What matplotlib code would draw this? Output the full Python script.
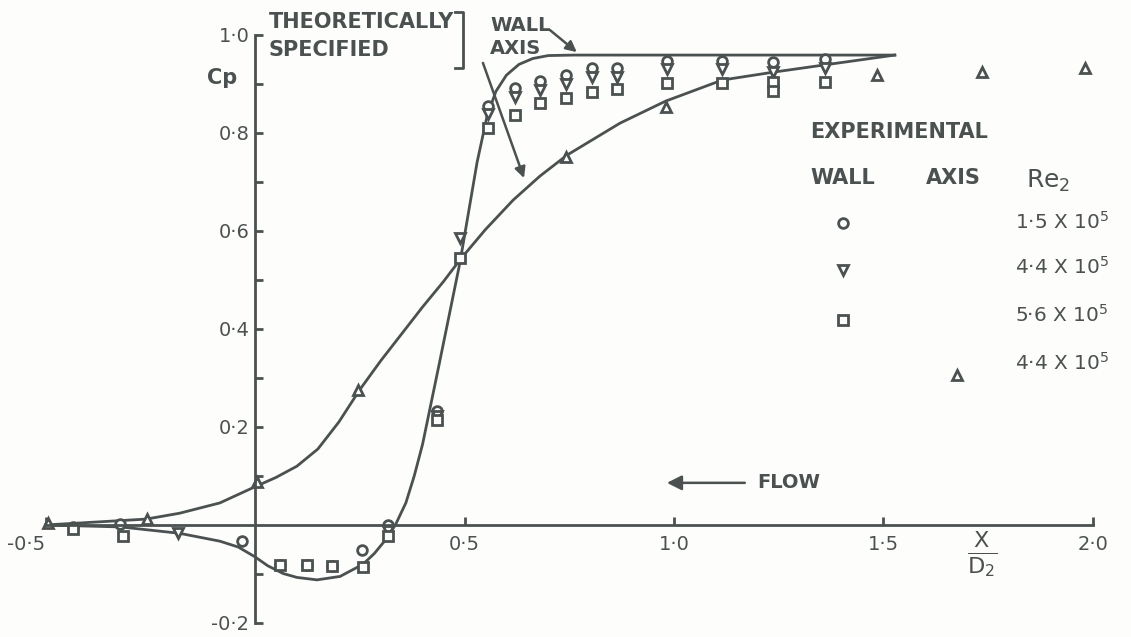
import matplotlib
matplotlib.use("Agg")
import matplotlib.pyplot as plt
from matplotlib.lines import Line2D

ink = "#4b5151"
plt.rcParams['font.family'] = ['DejaVu Sans']

# theoretical curves
wall_theory_x = [-0.5, -0.32, -0.18, -0.084, -0.04, 0.0, 0.03, 0.067, 0.10, 0.148, 0.203, 0.258, 0.285, 0.31,
                 0.335, 0.36, 0.38, 0.40, 0.44, 0.489, 0.513, 0.53, 0.554, 0.575, 0.60, 0.63, 0.663, 0.70,
                 0.76, 1.527]
wall_theory_cp = [0.0, -0.004, -0.017, -0.033, -0.045, -0.065, -0.083, -0.099, -0.107, -0.112, -0.105, -0.08,
                  -0.058, -0.032, 0.0, 0.045, 0.1, 0.165, 0.33, 0.535, 0.655, 0.74, 0.835, 0.885, 0.918,
                  0.94, 0.952, 0.958, 0.959, 0.959]

axis_theory_x = [-0.5, -0.26, -0.18, -0.084, 0.0, 0.05, 0.1, 0.15, 0.2, 0.25, 0.3, 0.35, 0.4, 0.45, 0.489,
                 0.55, 0.616, 0.68, 0.745, 0.871, 0.98, 1.115, 1.236, 1.36, 1.527]
axis_theory_cp = [0.0, 0.012, 0.024, 0.045, 0.078, 0.097, 0.12, 0.155, 0.21, 0.276, 0.335, 0.39, 0.445, 0.497,
                  0.541, 0.603, 0.663, 0.712, 0.755, 0.82, 0.865, 0.908, 0.924, 0.939, 0.959]

# experimental points
wall_re15_x = [-0.434, -0.322, -0.03, 0.06, 0.124, 0.184, 0.255, 0.317, 0.434, 0.556, 0.62, 0.68, 0.742,
               0.804, 0.864, 0.983, 1.115, 1.236, 1.36]
wall_re15_cp = [-0.004, 0.002, -0.033, -0.082, -0.082, -0.084, -0.052, 0.0, 0.232, 0.856, 0.892, 0.906, 0.918,
                0.933, 0.933, 0.947, 0.947, 0.945, 0.95]

wall_re44_x = [-0.184, 0.317, 0.434, 0.489, 0.556, 0.62, 0.68, 0.742, 0.804, 0.864, 0.983, 1.115, 1.236, 1.36]
wall_re44_cp = [-0.017, -0.012, 0.222, 0.586, 0.838, 0.874, 0.888, 0.9, 0.915, 0.915, 0.93, 0.93, 0.925, 0.933]

wall_re56_x = [-0.434, -0.315, 0.06, 0.124, 0.184, 0.258, 0.317, 0.434, 0.489, 0.556, 0.62, 0.68, 0.742,
               0.804, 0.864, 0.983, 1.115, 1.236, 1.236, 1.36]
wall_re56_cp = [-0.008, -0.022, -0.082, -0.082, -0.084, -0.086, -0.022, 0.215, 0.545, 0.81, 0.837, 0.861, 0.871,
                0.884, 0.89, 0.902, 0.902, 0.905, 0.885, 0.904]

axis_re44_x = [-0.494, -0.258, 0.005, 0.246, 0.742, 0.98, 1.485, 1.735, 1.98]
axis_re44_cp = [0.004, 0.012, 0.088, 0.275, 0.751, 0.853, 0.918, 0.924, 0.933]

xticks = [-0.5, 0.5, 1.0, 1.5, 2.0]
xtick_labels = ["-0·5", "0·5", "1·0", "1·5", "2·0"]
yticks = [-0.2, 0.2, 0.4, 0.6, 0.8, 1.0]
ytick_labels = ["-0·2", "0·2", "0·4", "0·6", "0·8", "1·0"]
yminor = [-0.1, 0.1, 0.3, 0.5, 0.7, 0.9]

legend_markers = ["o", "v", "s", "^"]
legend_labels = ["1·5 X 10$^5$", "4·4 X 10$^5$", "5·6 X 10$^5$", "4·4 X 10$^5$"]

fig = plt.figure(figsize=(11.31, 6.37), dpi=100, facecolor="#fdfdfb")
ax = fig.add_axes([0, 0, 1, 1])
ax.set_facecolor("#fdfdfb")
ax.set_xlim(-0.6086, 2.0907)
ax.set_ylim(-0.2286, 1.0714)

ax.plot(wall_theory_x, wall_theory_cp, color=ink, lw=2)
ax.plot(axis_theory_x, axis_theory_cp, color=ink, lw=2)

mk = dict(ls="none", markerfacecolor="#fdfdfb", markeredgecolor=ink, markeredgewidth=2, ms=7)
ax.plot(wall_re15_x, wall_re15_cp, marker="o", **mk)
ax.plot(wall_re44_x, wall_re44_cp, marker="v", **mk)
ax.plot(wall_re56_x, wall_re56_cp, marker="s", **mk)
ax.plot(axis_re44_x, axis_re44_cp, marker="^", **mk)

# axes through the origin
for s in ["top", "right"]:
    ax.spines[s].set_visible(False)
ax.spines["left"].set_position(("data", 0))
ax.spines["bottom"].set_position(("data", 0))
ax.spines["left"].set_bounds(-0.2, 1.0)
ax.spines["bottom"].set_bounds(-0.5, 2.0)
for s in ["left", "bottom"]:
    ax.spines[s].set_color(ink)
    ax.spines[s].set_linewidth(2)

ax.set_xticks(xticks)
ax.set_xticklabels(xtick_labels)
ax.get_xticklabels()[0].set_ha("right")
ax.set_yticks(yticks)
ax.set_yticklabels(ytick_labels)
ax.set_yticks(yminor, minor=True)
ax.tick_params(axis="x", direction="in", length=6, width=2, color=ink, pad=7, labelsize=14, labelcolor=ink)
ax.tick_params(axis="y", which="both", direction="in", length=6, width=2, color=ink, pad=4, labelsize=14, labelcolor=ink)

tx = dict(color=ink, fontsize=15, fontweight="bold")
ax.text(-0.079, 0.912, "Cp", ha="center", va="center", **tx)
ax.text(0.032, 1.027, "THEORETICALLY", ha="left", va="center", **tx)
ax.text(0.032, 0.969, "SPECIFIED", ha="left", va="center", **tx)
ax.text(0.561, 1.02, "WALL", ha="left", va="center", color=ink, fontsize=14, fontweight="bold")
ax.text(0.561, 0.973, "AXIS", ha="left", va="center", color=ink, fontsize=14, fontweight="bold")

# bracket
ax.add_line(Line2D([0.477, 0.496, 0.496, 0.477], [1.047, 1.047, 0.933, 0.933], color=ink, lw=2))

arr = dict(arrowstyle="-|>", color=ink, lw=1.8, mutation_scale=16, shrinkA=0, shrinkB=0)
ax.annotate("", xy=(0.768, 0.965), xytext=(0.704, 1.01), arrowprops=arr)
ax.annotate("", xy=(0.642, 0.708), xytext=(0.544, 0.943), arrowprops=arr)
ax.annotate("", xy=(0.983, 0.086), xytext=(1.169, 0.086), arrowprops=dict(arr, mutation_scale=22))
ax.text(1.198, 0.086, "FLOW", ha="left", va="center", color=ink, fontsize=14, fontweight="bold")

ax.text(1.735, -0.06, r"$\frac{\mathrm{X}}{\mathrm{D}_2}$", ha="center", va="center", color=ink, fontsize=23)

# experimental key
lx = dict(color=ink, fontsize=15, fontweight="bold")
ax.text(1.325, 0.802, "EXPERIMENTAL", ha="left", va="center", **lx)
ax.text(1.325, 0.708, "WALL", ha="left", va="center", **lx)
ax.text(1.6, 0.708, "AXIS", ha="left", va="center", **lx)
ax.text(1.84, 0.702, "Re$_2$", ha="left", va="center", color=ink, fontsize=18)
marker_y = [0.616, 0.520, 0.418, 0.306]
label_y = [0.618, 0.527, 0.429, 0.331]
for m, lab, my, ly in zip(legend_markers, legend_labels, marker_y, label_y):
    kx = 1.675 if m == "^" else 1.403
    ax.plot([kx], [my], marker=m, **mk)
    ax.text(1.814, ly, lab, ha="left", va="center", color=ink, fontsize=14.5)

fig.savefig("out.png", dpi=100, facecolor=fig.get_facecolor())
